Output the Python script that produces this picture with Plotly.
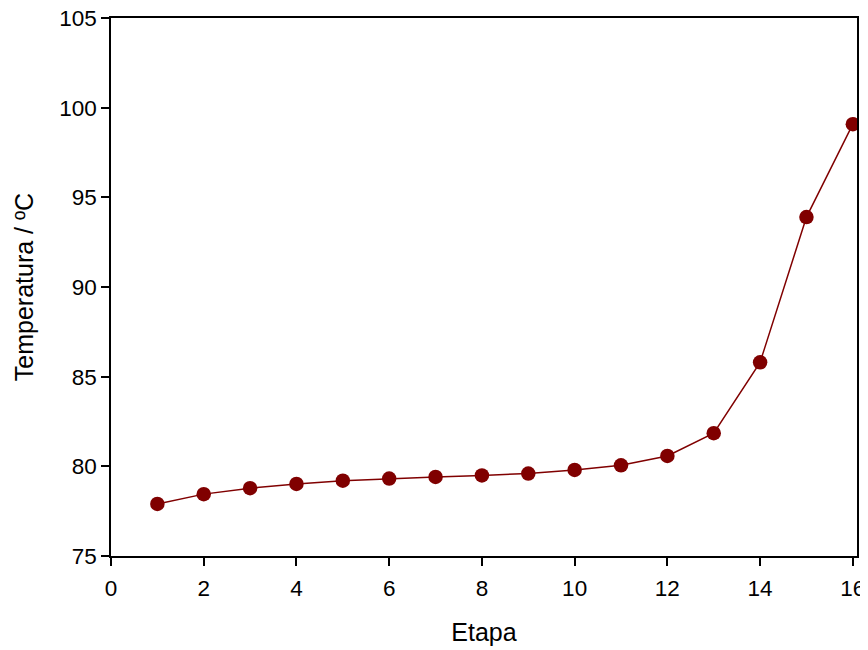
import plotly.graph_objects as go

etapa = list(range(1, 17))
temperatura = [77.9, 78.45, 78.78, 79.02, 79.2, 79.32, 79.41, 79.49,
               79.6, 79.8, 80.06, 80.58, 81.85, 85.8, 93.9, 99.08]

FONT = "Liberation Sans, Arial"

fig = go.Figure()
fig.add_trace(go.Scatter(
    x=etapa, y=temperatura, mode="lines+markers",
    line=dict(color="#800000", width=1.5),
    marker=dict(color="#800000", size=14.5),
))

axis_common = dict(
    showline=True, linecolor="black", linewidth=1.5, mirror=True,
    ticks="outside", ticklen=8, tickwidth=1.5, tickcolor="black",
    showgrid=False, zeroline=False, ticklabeloverflow="allow",
    tickfont=dict(family=FONT, size=22.5, color="black"),
)

fig.update_xaxes(range=[0, 16.09], tickvals=list(range(0, 17, 2)),
                 ticklabelstandoff=3,
                 title=dict(text="Etapa", font=dict(family=FONT, size=25, color="black"),
                            standoff=24),
                 **axis_common)
fig.update_yaxes(range=[75, 105], tickvals=list(range(75, 106, 5)),
                 title=dict(text="Temperatura / ºC", font=dict(family=FONT, size=25, color="black"),
                            standoff=18),
                 **axis_common)

# page body has an 8px margin, so the figure is sized to fit the window
fig.update_layout(
    width=860, height=642,
    margin=dict(l=103, r=11, t=10, b=94, autoexpand=False),
    plot_bgcolor="white", paper_bgcolor="white",
    showlegend=False,
)

fig.write_html("out.html")
